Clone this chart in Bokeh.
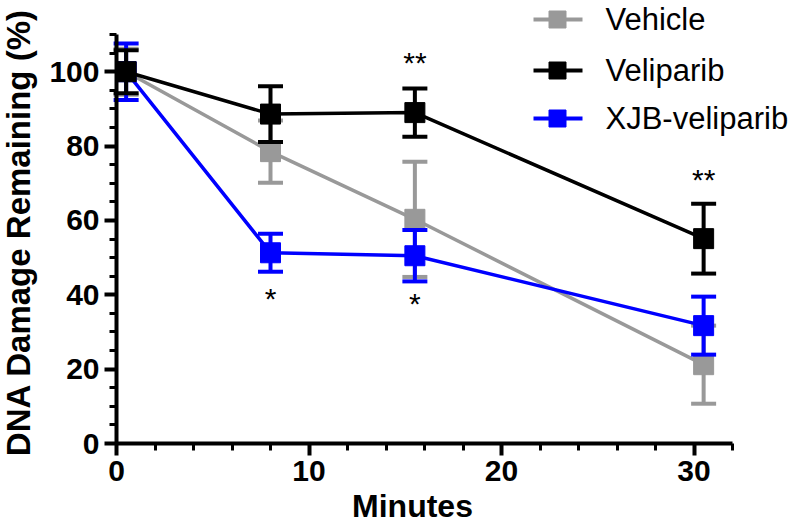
import math
from bokeh.plotting import figure
from bokeh.models import Range1d, FixedTicker
from bokeh.core.properties import value
from bokeh.embed import file_html
from bokeh.resources import INLINE

# ---- data ----
minutes = [0.5, 8, 15.5, 30.5]
vehicle_mean = [100, 78.5, 60.3, 21.2]
vehicle_err = [6.2, 8.4, 15.5, 10.5]
veliparib_mean = [100, 88.6, 89.0, 55.1]
veliparib_err = [5.8, 7.5, 6.5, 9.4]
xjb_mean = [100, 51.3, 50.5, 31.7]
xjb_err = [7.6, 5.1, 6.9, 7.8]

series_names = ["Vehicle", "Veliparib", "XJB-veliparib"]
x_ticks = [0, 10, 20, 30]
x_minor = list(range(0, 33, 2))
y_ticks = [0, 20, 40, 60, 80, 100]
y_minor = list(range(0, 111, 5))

sig_x = [15.5, 30.5, 8, 15.5]
sig_y = [102.5, 71.0, 39.0, 37.6]
sig_text = ["**", "**", "*", "*"]

x_title = "Minutes"
y_title = "DNA Damage Remaining (%)"

FONT = "Liberation Sans"
colors = {"Vehicle": "#999999", "Veliparib": "#000000", "XJB-veliparib": "#0000FF"}

# pixel scale: 19.25 px per minute, 3.718 px per percent; origin at (116, 443)
XS, YS = 19.25, 3.718
p = figure(width=800, height=525, output_backend="svg", toolbar_location=None,
           x_range=Range1d(-116 / XS, 684 / XS), y_range=Range1d(-82 / YS, 443 / YS),
           min_border=0)
p.outline_line_color = None
p.grid.visible = False
p.background_fill_color = "white"

for ax in (p.xaxis[0], p.yaxis[0]):
    ax.fixed_location = 0
    ax.axis_line_width = 4
    ax.axis_line_color = "black"
    ax.major_tick_line_width = 4
    ax.minor_tick_line_width = 3
    ax.major_tick_in = 0
    ax.minor_tick_in = 0
    ax.major_tick_out = 12
    ax.minor_tick_out = 7
    ax.major_label_text_font = FONT
    ax.major_label_text_font_style = "bold"
    ax.major_label_text_font_size = "30px"
    ax.major_label_text_color = "black"
    ax.major_label_standoff = 5

p.xaxis[0].ticker = FixedTicker(ticks=x_ticks, minor_ticks=x_minor)
p.yaxis[0].ticker = FixedTicker(ticks=y_ticks, minor_ticks=y_minor)
p.xaxis[0].bounds = (0, 32)
p.yaxis[0].bounds = (0, 110)

data = {
    "Vehicle": (vehicle_mean, vehicle_err),
    "Veliparib": (veliparib_mean, veliparib_err),
    "XJB-veliparib": (xjb_mean, xjb_err),
}

# draw order: Vehicle, XJB-veliparib, Veliparib (black on top)
for name in ["Vehicle", "XJB-veliparib", "Veliparib"]:
    mean, err = data[name]
    c = colors[name]
    hi = [m + e for m, e in zip(mean, err)]
    lo = [m - e for m, e in zip(mean, err)]
    p.segment(x0=minutes, y0=lo, x1=minutes, y1=hi, line_color=c, line_width=4)
    p.scatter(minutes, hi, marker="dash", size=25, line_color=c, line_width=4)
    p.scatter(minutes, lo, marker="dash", size=25, line_color=c, line_width=4)
    p.line(minutes, mean, line_color=c, line_width=3.5)
    p.scatter(minutes, mean, marker="square", size=20, fill_color=c, line_color=c)

# significance marks
p.text(x=sig_x, y=sig_y, text=sig_text, text_font=value(FONT), text_font_size="30px",
       text_align="center", text_baseline="middle", text_color="black")

# legend (manual)
leg_y = [(443 - 19) / YS, (443 - 70) / YS, (443 - 118) / YS]
for name, ly in zip(series_names, leg_y):
    c = colors[name]
    p.line([(533 - 116) / XS, (582 - 116) / XS], [ly, ly], line_color=c, line_width=4)
    p.scatter([(557 - 116) / XS], [ly], marker="square", size=17, fill_color=c, line_color=c)
    p.text(x=[(605 - 116) / XS], y=[ly], text=[name], text_font=value(FONT), text_font_size="31px",
           text_align="left", text_baseline="middle", text_color="black")

# axis titles
p.text(x=[(412 - 116) / XS], y=[(443 - 505) / YS], text=[x_title], text_font=value(FONT),
       text_font_size="32px", text_font_style="bold", text_align="center",
       text_baseline="middle", text_color="black")
p.text(x=[(18 - 116) / XS], y=[(443 - 232) / YS], text=[y_title], angle=math.pi / 2,
       text_font=value(FONT), text_font_size="33px", text_font_style="bold",
       text_align="center", text_baseline="middle", text_color="black")

open("out.html", "w").write(file_html(p, INLINE))
